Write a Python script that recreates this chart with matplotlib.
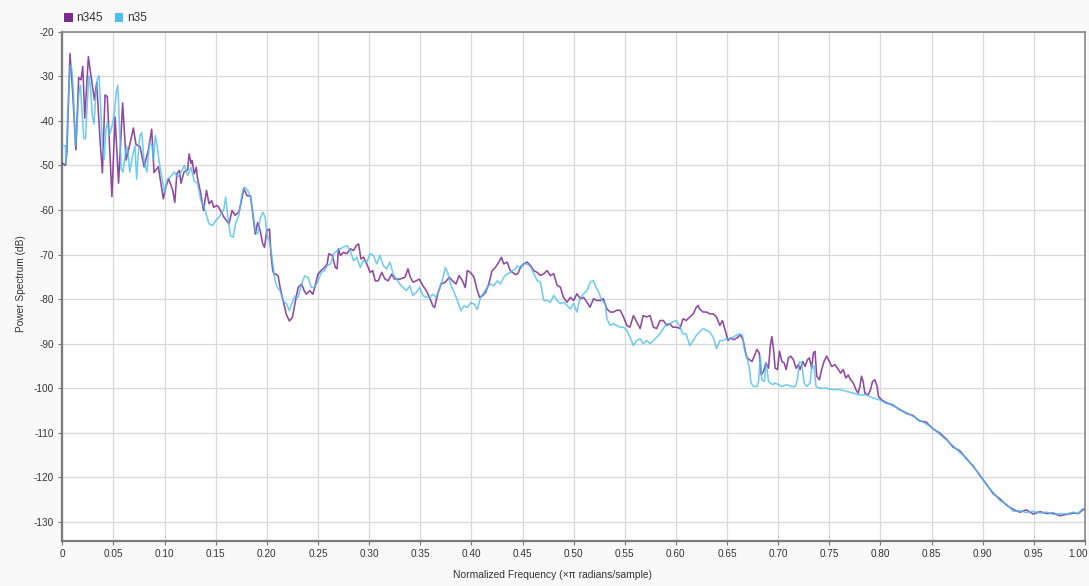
import matplotlib
matplotlib.use("Agg")
import matplotlib.pyplot as plt
import matplotlib.transforms as mtransforms
from matplotlib.patches import Rectangle

# ---- power spectrum estimates (normalized frequency, dB) ----
n345_freq = [0.000, 0.003, 0.0045, 0.0075, 0.010, 0.0133, 0.016, 0.0183, 0.020, 0.022,
             0.0255, 0.0287, 0.0314, 0.0336, 0.0369, 0.0392, 0.0418, 0.044, 0.0485, 0.0516,
             0.055, 0.059, 0.0624, 0.0663, 0.0695, 0.072, 0.076, 0.080, 0.0842, 0.0874,
             0.0897, 0.0939, 0.0988, 0.101, 0.104, 0.108, 0.110, 0.112, 0.1145, 0.116,
             0.119, 0.1226, 0.124, 0.126, 0.127, 0.129, 0.131, 0.132, 0.1355, 0.138,
             0.141, 0.1435, 0.146, 0.148, 0.151, 0.153, 0.158, 0.163, 0.166, 0.169,
             0.1726, 0.175, 0.1774, 0.1806, 0.184, 0.1855, 0.1887, 0.191, 0.1935, 0.196,
             0.1977, 0.200, 0.2026, 0.204, 0.2058, 0.207, 0.209, 0.211, 0.213, 0.216,
             0.219, 0.222, 0.225, 0.2274, 0.2306, 0.234, 0.2365, 0.2387, 0.242, 0.245,
             0.2468, 0.250, 0.253, 0.2565, 0.259, 0.2606, 0.264, 0.267, 0.2687, 0.270,
             0.272, 0.275, 0.2784, 0.2816, 0.2848, 0.2874, 0.2897, 0.292, 0.2945, 0.2977,
             0.301, 0.3035, 0.306, 0.309, 0.3123, 0.3155, 0.3187, 0.322, 0.325, 0.330,
             0.335, 0.338, 0.3403, 0.343, 0.346, 0.349, 0.3526, 0.356, 0.359, 0.3623,
             0.364, 0.367, 0.3703, 0.3745, 0.3784, 0.3816, 0.385, 0.388, 0.3913, 0.394,
             0.396, 0.399, 0.4026, 0.4058, 0.408, 0.4106, 0.4139, 0.417, 0.4203, 0.4235,
             0.4268, 0.4294, 0.4316, 0.435, 0.438, 0.443, 0.4455, 0.448, 0.451, 0.4545,
             0.458, 0.461, 0.4643, 0.4675, 0.4708, 0.474, 0.4773, 0.4805, 0.4838, 0.487,
             0.490, 0.4935, 0.4968, 0.500, 0.5032, 0.5065, 0.5097, 0.513, 0.516, 0.5195,
             0.5227, 0.526, 0.529, 0.5325, 0.5357, 0.539, 0.542, 0.5455, 0.5487, 0.552,
             0.555, 0.5584, 0.5617, 0.565, 0.568, 0.5714, 0.5747, 0.578, 0.5812, 0.5844,
             0.5877, 0.591, 0.594, 0.597, 0.6006, 0.604, 0.607, 0.610, 0.6136, 0.617,
             0.620, 0.6218, 0.623, 0.6266, 0.630, 0.633, 0.6364, 0.6396, 0.643, 0.6455,
             0.6477, 0.651, 0.6532, 0.6565, 0.6597, 0.663, 0.6656, 0.6679, 0.6695, 0.672,
             0.6744, 0.6766, 0.6792, 0.6815, 0.6834, 0.6857, 0.688, 0.6906, 0.6922, 0.6938,
             0.6955, 0.697, 0.6993, 0.7013, 0.7036, 0.7058, 0.7078, 0.710, 0.7123, 0.7149,
             0.7175, 0.7198, 0.7214, 0.724, 0.7263, 0.7286, 0.7305, 0.7328, 0.7344, 0.736,
             0.7377, 0.7403, 0.7425, 0.7448, 0.7474, 0.750, 0.7523, 0.7555, 0.7588, 0.761,
             0.7636, 0.7662, 0.7685, 0.7708, 0.7734, 0.776, 0.7782, 0.7799, 0.7815, 0.7831,
             0.7847, 0.788, 0.7903, 0.7922, 0.7945, 0.7968, 0.798, 0.801, 0.8056, 0.812,
             0.8186, 0.825, 0.8317, 0.838, 0.8448, 0.8513, 0.8578, 0.8644, 0.871, 0.8775,
             0.884, 0.8905, 0.897, 0.9036, 0.910, 0.9167, 0.9232, 0.930, 0.9363, 0.9428,
             0.9493, 0.956, 0.9624, 0.969, 0.9755, 0.982, 0.9886, 0.9935, 0.9967, 1.000]
n345_db = [-49.5, -50.0, -47.0, -24.9, -33.0, -46.5, -30.3, -30.8, -27.8, -39.4,
           -25.6, -31.0, -35.3, -31.4, -44.3, -51.7, -34.2, -34.6, -57.0, -39.1,
           -54.0, -36.0, -48.8, -45.0, -41.6, -45.3, -45.8, -50.3, -46.5, -41.9,
           -51.6, -50.3, -57.5, -55.0, -53.0, -55.6, -58.3, -51.9, -51.1, -54.0,
           -51.5, -51.0, -47.4, -49.6, -48.9, -51.9, -50.4, -52.6, -56.4, -60.1,
           -55.6, -58.6, -57.9, -59.4, -59.0, -59.4, -61.6, -63.1, -60.1, -61.2,
           -60.5, -58.2, -55.2, -56.8, -56.8, -59.4, -65.4, -62.8, -64.6, -67.6,
           -68.4, -64.6, -64.3, -69.9, -73.6, -74.4, -74.4, -74.8, -77.4, -80.4,
           -83.4, -84.9, -84.1, -81.1, -77.4, -76.6, -78.1, -78.9, -78.1, -78.9,
           -77.4, -74.4, -73.6, -72.9, -72.1, -69.8, -70.2, -72.9, -73.2, -68.7,
           -70.2, -69.5, -69.8, -68.7, -69.1, -68.0, -67.6, -71.0, -70.6, -72.1,
           -74.0, -73.6, -75.9, -75.9, -74.0, -75.5, -75.9, -74.4, -75.5, -75.5,
           -75.1, -73.2, -75.1, -76.2, -75.9, -75.5, -77.0, -78.1, -79.6, -81.5,
           -81.9, -78.9, -76.6, -76.2, -75.1, -75.9, -76.6, -74.7, -75.9, -77.4,
           -73.6, -74.0, -75.1, -78.1, -79.6, -79.3, -78.5, -76.6, -73.6, -72.9,
           -71.7, -70.6, -72.1, -71.7, -73.6, -74.5, -74.3, -72.8, -72.1, -71.7,
           -72.5, -73.6, -74.0, -74.7, -74.3, -73.6, -74.7, -74.3, -76.9, -77.3,
           -79.6, -80.7, -79.6, -80.3, -78.8, -79.9, -79.6, -80.7, -81.8, -79.9,
           -80.3, -80.3, -79.9, -82.2, -82.9, -82.9, -82.5, -82.5, -84.0, -85.9,
           -86.3, -83.7, -85.1, -86.6, -83.7, -84.0, -83.7, -86.3, -86.6, -84.8,
           -84.8, -85.9, -85.5, -86.3, -86.3, -86.6, -84.4, -84.8, -84.0, -83.3,
           -81.8, -81.4, -82.2, -82.9, -82.9, -83.3, -83.3, -84.0, -85.9, -84.8,
           -86.6, -89.3, -88.7, -89.1, -88.7, -88.0, -89.1, -91.7, -93.2, -93.6,
           -94.0, -92.8, -91.3, -92.1, -97.0, -96.2, -94.3, -95.5, -90.6, -88.4,
           -91.3, -95.5, -95.8, -91.7, -94.0, -94.3, -95.8, -93.2, -92.8, -93.6,
           -95.5, -94.7, -95.8, -94.0, -95.1, -93.6, -93.2, -95.5, -92.1, -91.7,
           -97.3, -98.1, -95.8, -94.0, -92.8, -94.0, -95.1, -94.7, -95.8, -96.6,
           -95.8, -97.7, -97.0, -98.1, -98.8, -100.3, -101.1, -99.6, -97.3, -98.5,
           -101.1, -101.5, -100.3, -98.5, -98.1, -99.6, -101.8, -102.6, -103.2, -103.8,
           -104.7, -105.6, -106.1, -107.3, -107.6, -109.1, -110.0, -111.4, -113.2, -114.0,
           -115.8, -117.4, -119.5, -121.5, -123.6, -124.8, -126.2, -127.2, -127.8, -127.3,
           -128.2, -127.7, -128.1, -128.0, -128.6, -128.3, -128.0, -128.1, -127.5, -127.0]

n35_freq = [0.000, 0.003, 0.0037, 0.0053, 0.0077, 0.0093, 0.011, 0.0127, 0.0143, 0.016,
            0.0177, 0.0193, 0.021, 0.0227, 0.0243, 0.026, 0.0277, 0.0293, 0.031, 0.0327,
            0.0343, 0.036, 0.0377, 0.0393, 0.041, 0.0427, 0.0443, 0.046, 0.0487, 0.051,
            0.0527, 0.0543, 0.056, 0.0577, 0.0593, 0.0627, 0.0643, 0.066, 0.0687, 0.071,
            0.0727, 0.0743, 0.076, 0.0777, 0.080, 0.0827, 0.0853, 0.0877, 0.0893, 0.091,
            0.0927, 0.0953, 0.0977, 0.100, 0.1027, 0.106, 0.1093, 0.1129, 0.1161, 0.1194,
            0.1226, 0.1258, 0.129, 0.1323, 0.1355, 0.1387, 0.1435, 0.1468, 0.150, 0.1532,
            0.158, 0.1597, 0.1619, 0.1645, 0.1671, 0.1694, 0.1726, 0.1758, 0.178, 0.1813,
            0.1839, 0.1865, 0.1887, 0.191, 0.1935, 0.196, 0.1984, 0.200, 0.2023, 0.2042,
            0.2058, 0.2081, 0.2103, 0.2129, 0.2161, 0.2194, 0.2219, 0.2242, 0.2274, 0.2306,
            0.2339, 0.2371, 0.2403, 0.2435, 0.2468, 0.250, 0.2532, 0.2565, 0.259, 0.2623,
            0.2655, 0.2687, 0.2719, 0.2752, 0.2784, 0.2816, 0.2848, 0.288, 0.2913, 0.2945,
            0.2977, 0.301, 0.3042, 0.3074, 0.3106, 0.3139, 0.3171, 0.3203, 0.3236, 0.3268,
            0.330, 0.3332, 0.3365, 0.3397, 0.3429, 0.3461, 0.3494, 0.3526, 0.3558, 0.359,
            0.3623, 0.3655, 0.3687, 0.3719, 0.3745, 0.3768, 0.380, 0.3832, 0.3865, 0.3897,
            0.3929, 0.3961, 0.3994, 0.4026, 0.4058, 0.409, 0.4123, 0.4155, 0.4187, 0.4219,
            0.4252, 0.4284, 0.4316, 0.4348, 0.4381, 0.4429, 0.445, 0.448, 0.451, 0.4545,
            0.458, 0.461, 0.4643, 0.4675, 0.4708, 0.474, 0.4773, 0.4805, 0.4838, 0.487,
            0.490, 0.4935, 0.4968, 0.500, 0.5032, 0.5065, 0.5097, 0.513, 0.5162, 0.519,
            0.521, 0.5243, 0.5276, 0.531, 0.5325, 0.5357, 0.539, 0.542, 0.5455, 0.5487,
            0.552, 0.555, 0.5584, 0.5617, 0.565, 0.568, 0.5714, 0.5747, 0.578, 0.5812,
            0.5844, 0.5877, 0.591, 0.594, 0.597, 0.6006, 0.604, 0.607, 0.610, 0.6136,
            0.617, 0.620, 0.623, 0.6266, 0.630, 0.633, 0.6364, 0.6396, 0.643, 0.646,
            0.6494, 0.6526, 0.656, 0.659, 0.6623, 0.665, 0.6672, 0.670, 0.672, 0.6734,
            0.676, 0.6792, 0.6808, 0.6825, 0.684, 0.6864, 0.6883, 0.6906, 0.6922, 0.6948,
            0.697, 0.7003, 0.7036, 0.7084, 0.7133, 0.7166, 0.7188, 0.7208, 0.723, 0.7253,
            0.7279, 0.7312, 0.7331, 0.735, 0.737, 0.7409, 0.7474, 0.7539, 0.7604, 0.7669,
            0.7734, 0.7799, 0.7864, 0.7929, 0.7994, 0.8056, 0.812, 0.8186, 0.825, 0.8317,
            0.838, 0.8448, 0.8513, 0.8578, 0.8644, 0.871, 0.8775, 0.884, 0.8905, 0.897,
            0.9036, 0.910, 0.9167, 0.9232, 0.930, 0.9363, 0.9428, 0.9493, 0.956, 0.9624,
            0.969, 0.9755, 0.982, 0.9886, 0.9935, 0.9967, 1.000]
n35_db = [-45.6, -45.6, -49.7, -38.0, -27.6, -28.3, -34.3, -45.6, -41.8, -34.3,
          -32.0, -38.0, -44.0, -44.0, -36.6, -29.9, -32.8, -38.8, -40.7, -34.3,
          -30.6, -29.9, -38.0, -45.6, -48.6, -41.8, -40.3, -43.3, -41.1, -38.0,
          -33.6, -32.0, -41.8, -50.8, -51.5, -45.6, -47.1, -51.5, -47.8, -45.6,
          -53.1, -47.1, -43.3, -42.6, -49.3, -51.5, -44.8, -45.6, -48.6, -43.3,
          -45.6, -50.1, -53.1, -56.1, -53.1, -52.5, -51.5, -52.6, -51.5, -50.0,
          -52.3, -50.4, -53.4, -54.1, -57.9, -59.4, -63.1, -63.5, -62.4, -61.6,
          -59.8, -57.1, -61.6, -65.8, -66.1, -63.1, -61.2, -56.4, -54.9, -55.6,
          -57.1, -60.9, -64.6, -65.4, -62.0, -60.5, -61.6, -65.4, -66.9, -69.1,
          -72.1, -75.9, -77.4, -78.1, -80.4, -81.1, -82.6, -81.1, -79.3, -79.6,
          -76.6, -74.8, -75.1, -77.4, -77.4, -75.9, -74.0, -73.6, -72.5, -72.1,
          -69.8, -69.1, -68.7, -68.3, -68.0, -69.1, -71.4, -70.6, -72.9, -71.4,
          -71.7, -69.8, -70.2, -72.1, -70.2, -72.5, -73.2, -71.7, -74.4, -75.5,
          -76.6, -77.4, -78.1, -77.0, -79.2, -78.5, -77.4, -79.2, -79.6, -79.6,
          -78.9, -79.6, -77.7, -75.5, -72.9, -74.0, -77.0, -78.5, -80.4, -82.6,
          -81.5, -81.9, -80.8, -81.1, -82.3, -79.6, -78.5, -77.4, -76.6, -77.0,
          -75.9, -76.6, -75.1, -74.4, -74.0, -73.2, -72.5, -73.2, -72.1, -72.1,
          -72.8, -74.3, -75.8, -76.2, -80.3, -80.3, -80.7, -79.2, -80.3, -81.0,
          -80.7, -81.4, -82.2, -81.0, -82.9, -79.6, -78.8, -78.1, -76.2, -75.8,
          -76.9, -78.4, -80.3, -81.0, -84.4, -85.9, -85.5, -85.9, -86.3, -86.3,
          -87.0, -88.5, -90.4, -89.3, -88.9, -90.0, -89.3, -90.0, -89.3, -88.5,
          -87.8, -86.6, -85.5, -85.5, -85.1, -84.8, -86.3, -87.8, -87.8, -90.4,
          -89.3, -88.1, -87.4, -86.6, -87.0, -87.4, -88.5, -91.1, -89.3, -89.3,
          -88.9, -88.9, -88.5, -88.1, -87.8, -88.1, -91.5, -93.6, -95.8, -98.8,
          -99.6, -99.6, -98.5, -92.8, -98.1, -98.5, -94.3, -98.5, -98.8, -99.2,
          -98.8, -99.2, -99.6, -99.2, -99.6, -99.6, -98.1, -94.0, -94.3, -98.8,
          -99.6, -98.8, -94.7, -95.1, -99.6, -100.0, -100.0, -100.3, -100.3, -100.7,
          -101.1, -101.5, -101.5, -102.2, -102.6, -103.4, -103.6, -104.9, -105.4, -106.3,
          -107.1, -108.0, -109.0, -110.3, -111.6, -112.9, -114.4, -115.6, -117.6, -119.3,
          -121.7, -123.3, -125.2, -126.0, -127.6, -127.5, -127.9, -127.6, -128.0, -127.8,
          -128.3, -128.1, -128.2, -127.8, -128.1, -127.2, -126.9]

series_names = ["n345", "n35"]
series_colors = ["#7B2A8F", "#4DC0F0"]
x_ticks = [0.0, 0.05, 0.10, 0.15, 0.20, 0.25, 0.30, 0.35, 0.40, 0.45, 0.50,
           0.55, 0.60, 0.65, 0.70, 0.75, 0.80, 0.85, 0.90, 0.95, 1.00]
x_tick_labels = ["0", "0.05", "0.10", "0.15", "0.20", "0.25", "0.30", "0.35", "0.40",
                 "0.45", "0.50", "0.55", "0.60", "0.65", "0.70", "0.75", "0.80", "0.85",
                 "0.90", "0.95", "1.00"]
y_ticks = [-130, -120, -110, -100, -90, -80, -70, -60, -50, -40, -30, -20]

plt.rcParams["font.family"] = ["Liberation Sans", "DejaVu Sans"]

W, H = 1089, 586
fig = plt.figure(figsize=(W / 100, H / 100), dpi=100, facecolor="#f9f9f9")
ax = fig.add_axes([62.3 / W, 1 - 540.7 / H, (1085 - 62.3) / W, (540.7 - 31.7) / H])
ax.set_facecolor("white")

ax.plot(n345_freq, n345_db, color=series_colors[0], lw=1.15, alpha=0.85, zorder=3)
ax.plot(n35_freq, n35_db, color=series_colors[1], lw=1.15, alpha=0.8, zorder=4)

ax.set_xlim(0, 1.0)
ax.set_ylim(-134.2, -20)
ax.set_xticks(x_ticks)
ax.set_xticklabels(x_tick_labels)
ax.set_yticks(y_ticks)
ax.set_yticklabels([str(v) for v in y_ticks])
ax.grid(True, color="#d9d9d9", lw=0.9, zorder=0)
ax.set_axisbelow(True)
ax.tick_params(axis="both", labelsize=7.2, colors="#333333", length=3, width=0.8,
               direction="out", pad=3)
ax.tick_params(axis="both", color="#777777")
for side in ["left", "bottom"]:
    ax.spines[side].set_color("#7a7a7a")
    ax.spines[side].set_linewidth(1.6)
for side in ["top", "right"]:
    ax.spines[side].set_color("#8a8a8a")
    ax.spines[side].set_linewidth(1.2)

# keep the last frequency label inside the figure edge
last_label = ax.get_xticklabels()[-1]
last_label.set_horizontalalignment("right")
last_label.set_transform(last_label.get_transform() +
                         mtransforms.ScaledTranslation(3 / 100, 0, fig.dpi_scale_trans))

fig.text(552.5 / W, 1 - 574.5 / H, "Normalized Frequency (\u00d7\u03c0 radians/sample)",
         ha="center", va="center", fontsize=7.4, color="#333333")
fig.text(20.5 / W, 1 - 284 / H, "Power Spectrum (dB)", ha="center", va="center",
         rotation=90, fontsize=7.3, color="#333333")

# legend entries along the top edge
legend_x = [64, 114.5]
text_x = [76.5, 127]
for name, color, lx, tx in zip(series_names, series_colors, legend_x, text_x):
    fig.add_artist(Rectangle((lx / W, 1 - 21.8 / H), 8.5 / W, 8.5 / H,
                             transform=fig.transFigure, color=color, lw=0))
    fig.text(tx / W, 1 - 17.6 / H, name, ha="left", va="center", fontsize=8.6,
             color="#333333")

fig.savefig("out.png", dpi=100, facecolor=fig.get_facecolor())
